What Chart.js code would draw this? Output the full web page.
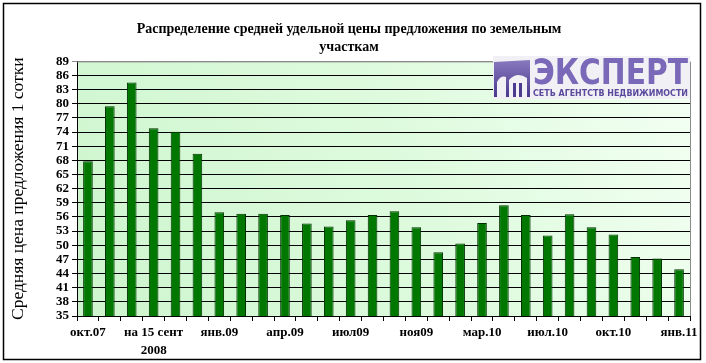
<!DOCTYPE html>
<html>
<head>
<meta charset="utf-8">
<script src="https://cdn.jsdelivr.net/npm/chart.js@4"></script>
<style>
  html, body { margin: 0; padding: 0; background: #fff; }
  #wrap { width: 706px; height: 363px; }
</style>
</head>
<body>
<div id="wrap"><canvas id="chart" width="706" height="363"></canvas></div>
<script>
// Chart data
const titleLines = ['Распределение средней удельной цены предложения по земельным', 'участкам'];
const yTitle = 'Средняя цена предложения 1 сотки';
const labels = ['окт.07', '', '', ['на 15 сент', '2008'], '', '', 'янв.09', '', '', 'апр.09', '', '',
    'июл09', '', '', 'ноя09', '', '', 'мар.10', '', '', 'июл.10', '', '', 'окт.10', '', '', 'янв.11'];
const prices = [67.8, 79.5, 84.5, 74.8, 74.1, 69.4, 57.0, 56.7, 56.7, 56.4, 54.6, 54.0,
    55.3, 56.4, 57.2, 53.8, 48.5, 50.4, 54.7, 58.5, 56.4, 52.1, 56.6, 53.8, 52.3, 47.5, 47.2, 44.9];
const yMin = 35;
const yMax = 89;
const yStep = 3;

const serif = '"Liberation Serif", "Times New Roman", serif';

// Background, frame and logo
const decor = {
    id: 'decor',
    beforeDraw(chart) {
        const { ctx, chartArea: a } = chart;
        ctx.save();
        ctx.fillStyle = '#ffffff';
        ctx.fillRect(0, 0, chart.width, chart.height);
        const g = ctx.createLinearGradient(a.left, a.bottom, a.right, a.top);
        g.addColorStop(0, '#cdf5cd');
        g.addColorStop(0.6, '#e0fbe0');
        g.addColorStop(1, '#f3fff3');
        ctx.fillStyle = g;
        ctx.fillRect(a.left, a.top, a.right - a.left, a.bottom - a.top);
        ctx.restore();
    },
    afterDraw(chart) {
        const { ctx, chartArea: a } = chart;
        ctx.save();
        // top / right plot border
        ctx.strokeStyle = '#8c8c8c';
        ctx.lineWidth = 1;
        ctx.beginPath();
        ctx.moveTo(a.left, a.top + 0.5);
        ctx.lineTo(a.right + 0.5, a.top + 0.5);
        ctx.lineTo(a.right + 0.5, a.bottom);
        ctx.stroke();

        // logo
        const lx = 493, ly = 56, lw = 197, lh = 43;
        ctx.fillStyle = '#f1f0f4';
        ctx.fillRect(lx, ly, lw, lh);
        const ig = ctx.createLinearGradient(0, ly + 3, 0, ly + 40);
        ig.addColorStop(0, '#8a7cc0');
        ig.addColorStop(1, '#4b3a8e');
        ctx.fillStyle = ig;
        ctx.beginPath();
        ctx.moveTo(lx + 1, ly + 6);
        ctx.lineTo(lx + 37, ly + 4);
        ctx.lineTo(lx + 37, ly + 41);
        ctx.lineTo(lx + 1, ly + 41);
        ctx.closePath();
        ctx.fill();
        ctx.fillStyle = '#f1f0f4';
        ctx.beginPath();
        ctx.moveTo(lx + 4, ly + 41);
        ctx.lineTo(lx + 4, ly + 26);
        ctx.quadraticCurveTo(lx + 8, ly + 19, lx + 13, ly + 21);
        ctx.lineTo(lx + 13, ly + 41);
        ctx.closePath();
        ctx.fill();
        ctx.beginPath();
        ctx.moveTo(lx + 16, ly + 41);
        ctx.lineTo(lx + 16, ly + 24);
        ctx.quadraticCurveTo(lx + 24, ly + 15, lx + 34, ly + 22);
        ctx.lineTo(lx + 34, ly + 41);
        ctx.closePath();
        ctx.fill();
        ctx.fillStyle = '#4b3a8e';
        ctx.fillRect(lx + 20, ly + 27, 3, 14);
        ctx.fillRect(lx + 26, ly + 27, 3, 14);

        const tg = ctx.createLinearGradient(0, ly + 2, 0, ly + 28);
        tg.addColorStop(0, '#7a68b8');
        tg.addColorStop(1, '#52409a');
        ctx.fillStyle = tg;
        ctx.textBaseline = 'alphabetic';
        ctx.textAlign = 'left';
        ctx.font = 'bold 36px "DejaVu Sans", sans-serif';
        let w = ctx.measureText('ЭКСПЕРТ').width;
        ctx.save();
        ctx.translate(lx + 40, ly + 28);
        ctx.scale(155 / w, 1);
        ctx.fillText('ЭКСПЕРТ', 0, 0);
        ctx.restore();
        ctx.fillStyle = '#5a4a9e';
        ctx.font = 'bold 9px "DejaVu Sans", sans-serif';
        w = ctx.measureText('СЕТЬ АГЕНТСТВ НЕДВИЖИМОСТИ').width;
        ctx.save();
        ctx.translate(lx + 40, ly + 40);
        ctx.scale(155 / w, 1);
        ctx.fillText('СЕТЬ АГЕНТСТВ НЕДВИЖИМОСТИ', 0, 0);
        ctx.restore();

        // outer frame
        ctx.strokeStyle = '#000';
        ctx.lineWidth = 1.5;
        ctx.strokeRect(3.5, 3.5, 697, 356);
        ctx.restore();
    }
};

new Chart(document.getElementById('chart'), {
    type: 'bar',
    data: {
        labels: labels,
        datasets: [{
            data: prices,
            backgroundColor: '#007800',
            borderColor: '#003000',
            borderWidth: 1,
            categoryPercentage: 1,
            barPercentage: 0.44
        }]
    },
    options: {
        responsive: false,
        animation: false,
        layout: { padding: { left: 8, right: 16, top: 0, bottom: 3 } },
        plugins: {
            legend: { display: false },
            tooltip: { enabled: false },
            title: {
                display: true,
                text: titleLines,
                color: '#000',
                font: { family: serif, size: 14, weight: 'bold', lineHeight: 1.3 },
                padding: { top: 20, bottom: 5 }
            }
        },
        scales: {
            x: {
                offset: true,
                grid: { drawOnChartArea: false, drawTicks: true, tickLength: 5, color: '#000' },
                border: { color: '#000', width: 1 },
                ticks: {
                    autoSkip: false,
                    maxRotation: 0,
                    padding: 3,
                    color: '#000',
                    font: { family: serif, size: 13, weight: 'bold', lineHeight: 1.38 }
                },
                afterFit: scale => { scale.height = 44; }
            },
            y: {
                min: yMin,
                max: yMax,
                grid: {
                    color: ctx => (ctx.tick && ctx.tick.value === yMax) ? '#8c8c8c' : '#000',
                    tickLength: 5
                },
                border: { color: '#000', width: 1 },
                ticks: {
                    stepSize: yStep,
                    autoSkip: false,
                    padding: 3,
                    color: '#000',
                    font: { family: serif, size: 13, weight: 'bold' }
                },
                title: {
                    display: true,
                    text: yTitle,
                    color: '#000',
                    font: { family: serif, size: 17.5 },
                    padding: { top: 0, bottom: 2 }
                },
                afterFit: scale => { scale.width = 69; }
            }
        }
    },
    plugins: [decor]
});
</script>
</body>
</html>
